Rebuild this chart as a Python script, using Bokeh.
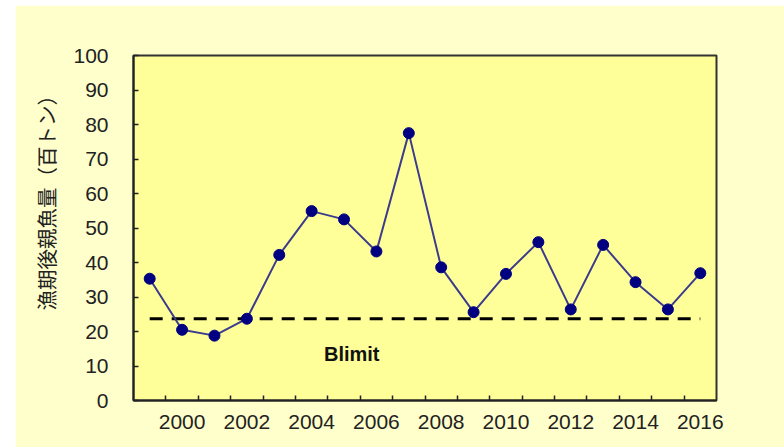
from bokeh.plotting import figure
from bokeh.models import FixedTicker, Label, Title
from bokeh.embed import file_html
from bokeh.resources import INLINE

# ---- data ----
years = [1999, 2000, 2001, 2002, 2003, 2004, 2005, 2006, 2007,
         2008, 2009, 2010, 2011, 2012, 2013, 2014, 2015, 2016]
biomass = [35.3, 20.5, 18.8, 23.7, 42.2, 54.9, 52.5, 43.2, 77.5,
           38.6, 25.6, 36.7, 45.9, 26.4, 45.1, 34.3, 26.4, 36.9]
blimit = 23.7
x_tick_labels = [2000, 2002, 2004, 2006, 2008, 2010, 2012, 2014, 2016]
y_ticks = [0, 10, 20, 30, 40, 50, 60, 70, 80, 90, 100]
y_title = "漁期後親魚量（百トン）"
blimit_text = "Blimit"

W, H = 769, 442
p = figure(width=W, height=H, output_backend="svg", toolbar_location=None,
           x_range=(years[0] - 0.5, years[-1] + 0.5), y_range=(0, 100),
           min_border_left=118, min_border_top=50, min_border_right=68,
           min_border_bottom=47)
p.styles = {"margin-left": "15px", "margin-top": "5px"}

p.background_fill_color = "#FFFF99"
p.border_fill_color = "#FFFFCC"
p.outline_line_color = "#333333"
p.outline_line_width = 2
p.grid.visible = False

font = "Liberation Sans"
# x axis
minor = [y + 0.5 for y in years[:-1]]
p.xaxis.ticker = FixedTicker(ticks=x_tick_labels, minor_ticks=minor)
p.xaxis.major_tick_in = 0
p.xaxis.major_tick_out = 0
p.xaxis.minor_tick_in = 5
p.xaxis.minor_tick_out = 0
p.xaxis.minor_tick_line_color = "#222222"
p.xaxis.minor_tick_line_width = 1.5
p.xaxis.major_label_standoff = 14
p.xaxis.major_label_text_font = font
p.xaxis.major_label_text_font_size = "21px"
p.xaxis.major_label_text_color = "#222222"
p.xaxis.axis_line_width = 2
p.xaxis.axis_line_color = "#222222"

# y axis
p.yaxis.ticker = FixedTicker(ticks=y_ticks)
p.yaxis.major_tick_in = 5
p.yaxis.major_tick_out = 0
p.yaxis.major_tick_line_color = "#222222"
p.yaxis.major_tick_line_width = 1.5
p.yaxis.minor_tick_line_color = None
p.yaxis.major_label_standoff = 25
p.yaxis.major_label_text_font = font
p.yaxis.major_label_text_font_size = "21px"
p.yaxis.major_label_text_color = "#222222"
p.yaxis.axis_line_width = 2
p.yaxis.axis_line_color = "#222222"

# y title, placed like the original (starting above the frame bottom)
p.add_layout(Title(text=y_title, align="left", offset=90,
                   text_font="Noto Sans CJK JP", text_font_size="20.5px",
                   text_font_style="normal", text_color="#222222",
                   standoff=20), "left")

# Blimit dashed line
p.line([years[0], years[-1]], [blimit, blimit], line_color="black",
       line_width=3, line_dash="13 9")

# series
p.line(years, biomass, line_color="#3c3c8c", line_width=2)
p.scatter(years, biomass, size=11, fill_color="#000080", line_color="#000080")

p.add_layout(Label(x=2004.38, y=13.6, text=blimit_text, text_font=font,
                   text_font_size="20px", text_font_style="bold",
                   text_baseline="alphabetic", text_color="#111111"))

open("out.html", "w").write(file_html(p, INLINE))
